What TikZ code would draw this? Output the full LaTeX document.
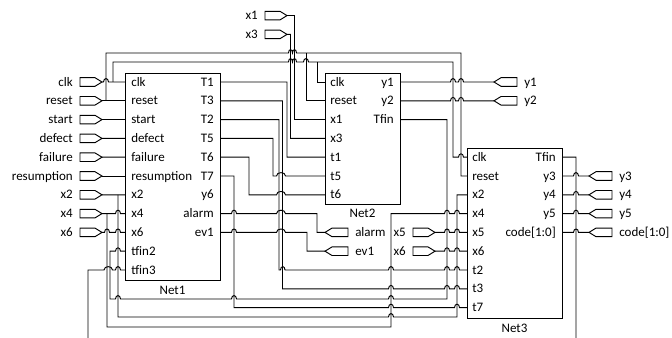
\documentclass[tikz,border=0pt]{standalone}
\usepackage{fontspec}
\setmainfont{Carlito}
\newcommand\inport[4]{% name, label, tip x, y
  \draw[port] (#3-22,#4-4.3) -- (#3-7,#4-4.3) -- (#3,#4) -- (#3-7,#4+4.3) -- (#3-22,#4+4.3) -- cycle;
  \coordinate (#1) at (#3,#4);
  \node[lbl,anchor=base east] (#1t) at (#3-29,#4+4.2) {#2};}
\newcommand\outport[4]{% name, label, tip x, y
  \draw[port] (#3,#4) -- (#3+7,#4-4.3) -- (#3+23,#4-4.3) -- (#3+23,#4+4.3) -- (#3+7,#4+4.3) -- cycle;
  \coordinate (#1) at (#3,#4);
  \node[lbl,anchor=base west] (#1t) at (#3+30,#4+4.2) {#2};}
\begin{document}
\begin{tikzpicture}[x=0.75pt,y=-0.75pt,
  wire/.style={draw=black,line width=0.7pt},
  port/.style={draw=black,line width=0.7pt,fill=white},
  box/.style={draw=black,line width=0.8pt,inner sep=0pt,anchor=north west},
  lbl/.style={inner sep=0pt,font=\fontsize{9.75}{11}\selectfont},
  hp/.style n args={3}{insert path={-- (#1,#3) .. controls (#1,#3-4.5) and (#2,#3-4.5) .. (#2,#3)}}]
\useasboundingbox (0,0) rectangle (672,338);

% boxes
\node[box,minimum width=71.25pt,minimum height=155.25pt] (net1) at (125,73) {};
\node[box,minimum width=56.25pt,minimum height=98.25pt] (net2) at (325,73) {};
\node[box,minimum width=71.25pt,minimum height=127.5pt] (net3) at (467,148) {};
\node[lbl,anchor=base] (net1t) at (172.5,294.2) {Net1};
\node[lbl,anchor=base] (net2t) at (362.5,217.2) {Net2};
\node[lbl,anchor=base] (net3t) at (514.5,332.2) {Net3};

% pins
\foreach \n [count=\i from 0] in {clk,reset,start,defect,failure,resumption,x2,x4,x6,tfin2,tfin3}{
  \coordinate (n1L\i) at (125,82+18.8*\i);
  \node[lbl,anchor=base west] (n1Lt\i) at (131,86.2+18.8*\i) {\n};}
\foreach \n [count=\i from 0] in {T1,T3,T2,T5,T6,T7,y6,alarm,ev1}{
  \coordinate (n1R\i) at (220,82+18.8*\i);
  \node[lbl,anchor=base east] (n1Rt\i) at (214,86.2+18.8*\i) {\n};}
\foreach \n [count=\i from 0] in {clk,reset,x1,x3,t1,t5,t6}{
  \coordinate (n2L\i) at (325,82+18.8*\i);
  \node[lbl,anchor=base west] (n2Lt\i) at (330,86.2+18.8*\i) {\n};}
\foreach \n [count=\i from 0] in {y1,y2,Tfin}{
  \coordinate (n2R\i) at (400,82+18.8*\i);
  \node[lbl,anchor=base east] (n2Rt\i) at (394,86.2+18.8*\i) {\n};}
\foreach \n [count=\i from 4] in {clk,reset,x2,x4,x5,x6,t2,t3,t7}{
  \coordinate (n3L\i) at (467,82+18.8*\i);
  \node[lbl,anchor=base west] (n3Lt\i) at (472,86.2+18.8*\i) {\n};}
\foreach \n [count=\i from 4] in {Tfin,y3,y4,y5,code[1:0]}{
  \coordinate (n3R\i) at (562,82+18.8*\i);
  \node[lbl,anchor=base east] (n3Rt\i) at (556,86.2+18.8*\i) {\n};}

% ports
\inport{pclk}{clk}{102}{82}
\inport{preset}{reset}{102}{100.8}
\inport{pstart}{start}{102}{119.6}
\inport{pdefect}{defect}{102}{138.4}
\inport{pfailure}{failure}{102}{157.2}
\inport{presum}{resumption}{102}{176}
\inport{px2}{x2}{102}{194.8}
\inport{px4}{x4}{102}{213.6}
\inport{px6}{x6}{102}{232.4}
\inport{px1}{x1}{287}{15.6}
\inport{px3}{x3}{287}{34.4}
\inport{px5}{x5}{435}{232.4}
\inport{px6b}{x6}{435}{251.2}
\outport{palarm}{alarm}{325}{232.4}
\outport{pev1}{ev1}{325}{251.2}
\outport{py1}{y1}{494}{82}
\outport{py2}{y2}{494}{100.8}
\outport{py3}{y3}{589}{176}
\outport{py4}{y4}{589}{194.8}
\outport{py5}{y5}{589}{213.6}
\outport{pcode}{code[1:0]}{589}{232.4}

% clk
\draw[wire] (pclk) [hp={103.5}{108.5}{82}] -- (n1L0);
\draw[wire] (113,82) -- (113,62) [hp={288.5}{292.5}{62}] [hp={292.5}{296.5}{62}] [hp={303.5}{308.5}{62}]
  -- (453,62) -- (453,157.2) [hp={458.5}{463.5}{157.2}] -- (n3L4);
\draw[wire] (317,62) -- (317,82) -- (n2L0);
% reset
\draw[wire] (preset) -- (n1L1);
\draw[wire] (106,100.8) -- (106,53) [hp={288.5}{292.5}{53}] [hp={292.5}{296.5}{53}]
  -- (461,53) -- (461,176) -- (n3L5);
\draw[wire] (306,53) -- (306,100.8) -- (n2L1);
% simple inputs
\draw[wire] (pstart) -- (n1L2);
\draw[wire] (pdefect) -- (n1L3);
\draw[wire] (pfailure) -- (n1L4);
\draw[wire] (presum) -- (n1L5);
% x2
\draw[wire] (px2) -- (n1L6);
\draw[wire] (118,194.8) -- (118,317) [hp={388.5}{393.5}{317}] -- (457,317) -- (457,194.8) -- (n3L6);
% x4
\draw[wire] (px4) [hp={115.5}{120.5}{213.6}] -- (n1L7);
\draw[wire] (107,213.6) -- (107,327) -- (391,327) -- (391,213.6)
  [hp={444.5}{449.5}{213.6}] [hp={454.5}{459.5}{213.6}] -- (n3L7);
% x6
\draw[wire] (px6) [hp={104.5}{109.5}{232.4}] [hp={115.5}{120.5}{232.4}] -- (n1L8);
% tfin2 from Net2 Tfin
\draw[wire] (n1L9) [hp={120.5}{115.5}{251.2}] -- (110,251.2) -- (110,299)
  [hp={115.5}{120.5}{299}] [hp={231.5}{236.5}{299}] [hp={388.5}{393.5}{299}]
  -- (447,299) -- (447,119.6) -- (n2R2);
% tfin3
\draw[wire] (88,338) -- (88,270) [hp={104}{112.5}{270}] [hp={115.5}{120.5}{270}] -- (n1L10);
% Net1 outputs
\draw[wire] (n1R0) -- (287,82) -- (287,157.2) -- (n2L4);
\draw[wire] (n1R1) -- (282.5,100.8) -- (282.5,288.8) [hp={388.5}{393.5}{288.8}]
  [hp={444.5}{449.5}{288.8}] [hp={454.5}{459.5}{288.8}] -- (n3L11);
\draw[wire] (n1R2) -- (279,119.6) -- (279,270) [hp={280.5}{285}{270}] [hp={388.5}{393.5}{270}]
  [hp={444.5}{449.5}{270}] [hp={454.5}{459.5}{270}] -- (n3L10);
\draw[wire] (n1R3) -- (273,138.4) -- (273,176) [hp={276.5}{285.5}{176}] -- (n2L5);
\draw[wire] (n1R4) -- (249,157.2) -- (249,194.8) [hp={276.5}{285.5}{194.8}] -- (n2L6);
\draw[wire] (n1R5) -- (234,176) -- (234,307.6) [hp={388.5}{393.5}{307.6}]
  [hp={454.5}{459.5}{307.6}] -- (n3L12);
\draw[wire] (n1R7) [hp={231.5}{236.5}{213.6}] [hp={276.5}{285.5}{213.6}] -- (317,213.6) -- (317,232.4) -- (palarm);
\draw[wire] (n1R8) [hp={231.5}{236.5}{232.4}] [hp={276.5}{285.5}{232.4}] -- (307,232.4) -- (307,251.2) -- (pev1);
% x1, x3
\draw[wire] (px1) -- (294.5,15.6) -- (294.5,119.6) -- (n2L2);
\draw[wire] (px3) -- (290.5,34.4) -- (290.5,138.4) -- (n2L3);
% Net2 outputs
\draw[wire] (n2R0) [hp={450.5}{455.5}{82}] [hp={458.5}{463.5}{82}] -- (py1);
\draw[wire] (n2R1) [hp={450.5}{455.5}{100.8}] [hp={458.5}{463.5}{100.8}] -- (py2);
% Net3 inputs x5 x6
\draw[wire] (px5) [hp={444.5}{449.5}{232.4}] [hp={454.5}{459.5}{232.4}] -- (n3L8);
\draw[wire] (px6b) [hp={444.5}{449.5}{251.2}] [hp={454.5}{459.5}{251.2}] -- (n3L9);
% Net3 outputs
\draw[wire] (n3R4) -- (576,157.2) -- (576,338);
\draw[wire] (n3R5) [hp={573.5}{578.5}{176}] -- (py3);
\draw[wire] (n3R6) [hp={573.5}{578.5}{194.8}] -- (py4);
\draw[wire] (n3R7) [hp={573.5}{578.5}{213.6}] -- (py5);
\draw[wire] (n3R8) [hp={573.5}{578.5}{232.4}] -- (pcode);
\end{tikzpicture}
\end{document}
